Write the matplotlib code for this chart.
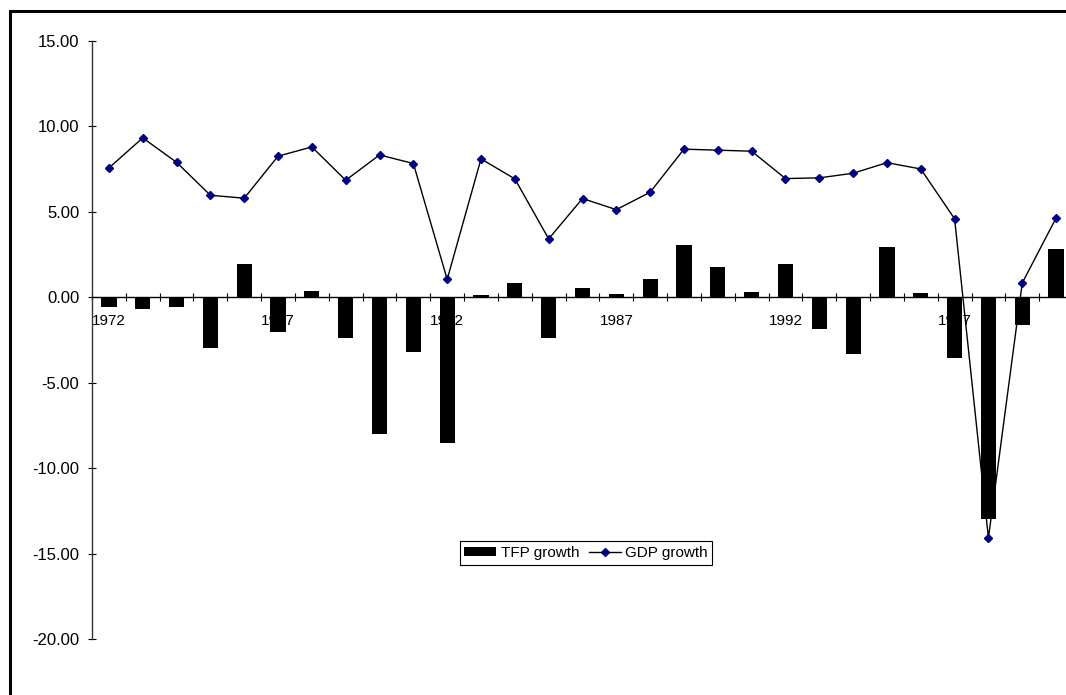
import matplotlib
matplotlib.use("Agg")
import matplotlib.pyplot as plt
from matplotlib.lines import Line2D
from matplotlib.ticker import FixedLocator, FuncFormatter
import numpy as np

# Annual growth rates (%), 1972-2000
years = list(range(1972, 2001))
tfp_growth = [-0.57, -0.67, -0.55, -2.97, 1.97, -2.01, 0.35, -2.40, -8.03, -3.22,
              -8.50, 0.12, 0.84, -2.40, 0.53, 0.18, 1.06, 3.06, 1.76, 0.31,
              1.97, -1.83, -3.32, 2.97, 0.25, -3.55, -13.00, -1.64, 2.81]
gdp_growth = [7.57, 9.33, 7.90, 5.97, 5.80, 8.26, 8.80, 6.85, 8.33, 7.83,
              1.05, 8.10, 6.93, 3.42, 5.78, 5.13, 6.15, 8.67, 8.61, 8.55,
              6.95, 6.99, 7.26, 7.88, 7.51, 4.59, -14.09, 0.84, 4.64]
labelled_years = [1972, 1977, 1982, 1987, 1992, 1997]
y_ticks = [-20, -15, -10, -5, 0, 5, 10, 15]

plt.rcParams['font.family'] = ['Liberation Sans', 'DejaVu Sans']

W, H = 1066, 695
fig = plt.figure(figsize=(W / 100, H / 100), dpi=100)
ax = fig.add_axes([92 / W, 56 / H, 981 / W, 598 / H])

x = np.arange(len(years))
bars = ax.bar(x, tfp_growth, width=0.45, color='black', linewidth=0,
              label='TFP growth', zorder=2)
line, = ax.plot(x, gdp_growth, color='black', lw=1.0, marker='D', ms=4,
                mfc='#000080', mec='#000080', label='GDP growth', zorder=3)

ax.set_xlim(-0.5, len(years) - 0.5)
ax.set_ylim(-20, 15)

# Spines: left axis plus a horizontal axis through zero
for side in ('top', 'right'):
    ax.spines[side].set_visible(False)
ax.spines['bottom'].set_position(('data', 0))
ax.spines['bottom'].set_linewidth(1.0)
ax.spines['left'].set_linewidth(1.0)
ax.spines['left'].set_color('#333333')

ax.set_yticks(y_ticks)
ax.yaxis.set_major_formatter(FuncFormatter(lambda v, p: f"{v:.2f}"))
ax.tick_params(axis='y', direction='inout', length=6, width=0.8,
               labelsize=12, pad=6, colors='black')

label_pos = [years.index(yr) for yr in labelled_years]
ax.xaxis.set_major_locator(FixedLocator(label_pos))
ax.set_xticklabels([str(yr) for yr in labelled_years])
ax.xaxis.set_minor_locator(FixedLocator(np.arange(-0.5, len(years), 1.0)))
ax.tick_params(axis='x', which='major', length=0, labelsize=11, pad=12)
ax.tick_params(axis='x', which='minor', direction='inout', length=6, width=0.8)
ax.set_axisbelow(True)

leg = ax.legend([bars, line], ['TFP growth', 'GDP growth'],
                loc='center', bbox_to_anchor=(586 / W, 1 - 553 / H),
                bbox_transform=fig.transFigure, ncol=2, fontsize=11,
                frameon=True, fancybox=False, edgecolor='black',
                framealpha=1, handlelength=2.1, handleheight=0.6,
                handletextpad=0.3, columnspacing=0.6, borderpad=0.3,
                borderaxespad=0)
leg.get_frame().set_linewidth(0.8)

# Outer frame (left and top edges)
fig.add_artist(Line2D([9.5 / W, 9.5 / W, 1.01], [-0.01, 1 - 10.5 / H, 1 - 10.5 / H],
                      transform=fig.transFigure, color='black', lw=2.2,
                      solid_joinstyle='miter'))

fig.savefig('out.png', dpi=100)
